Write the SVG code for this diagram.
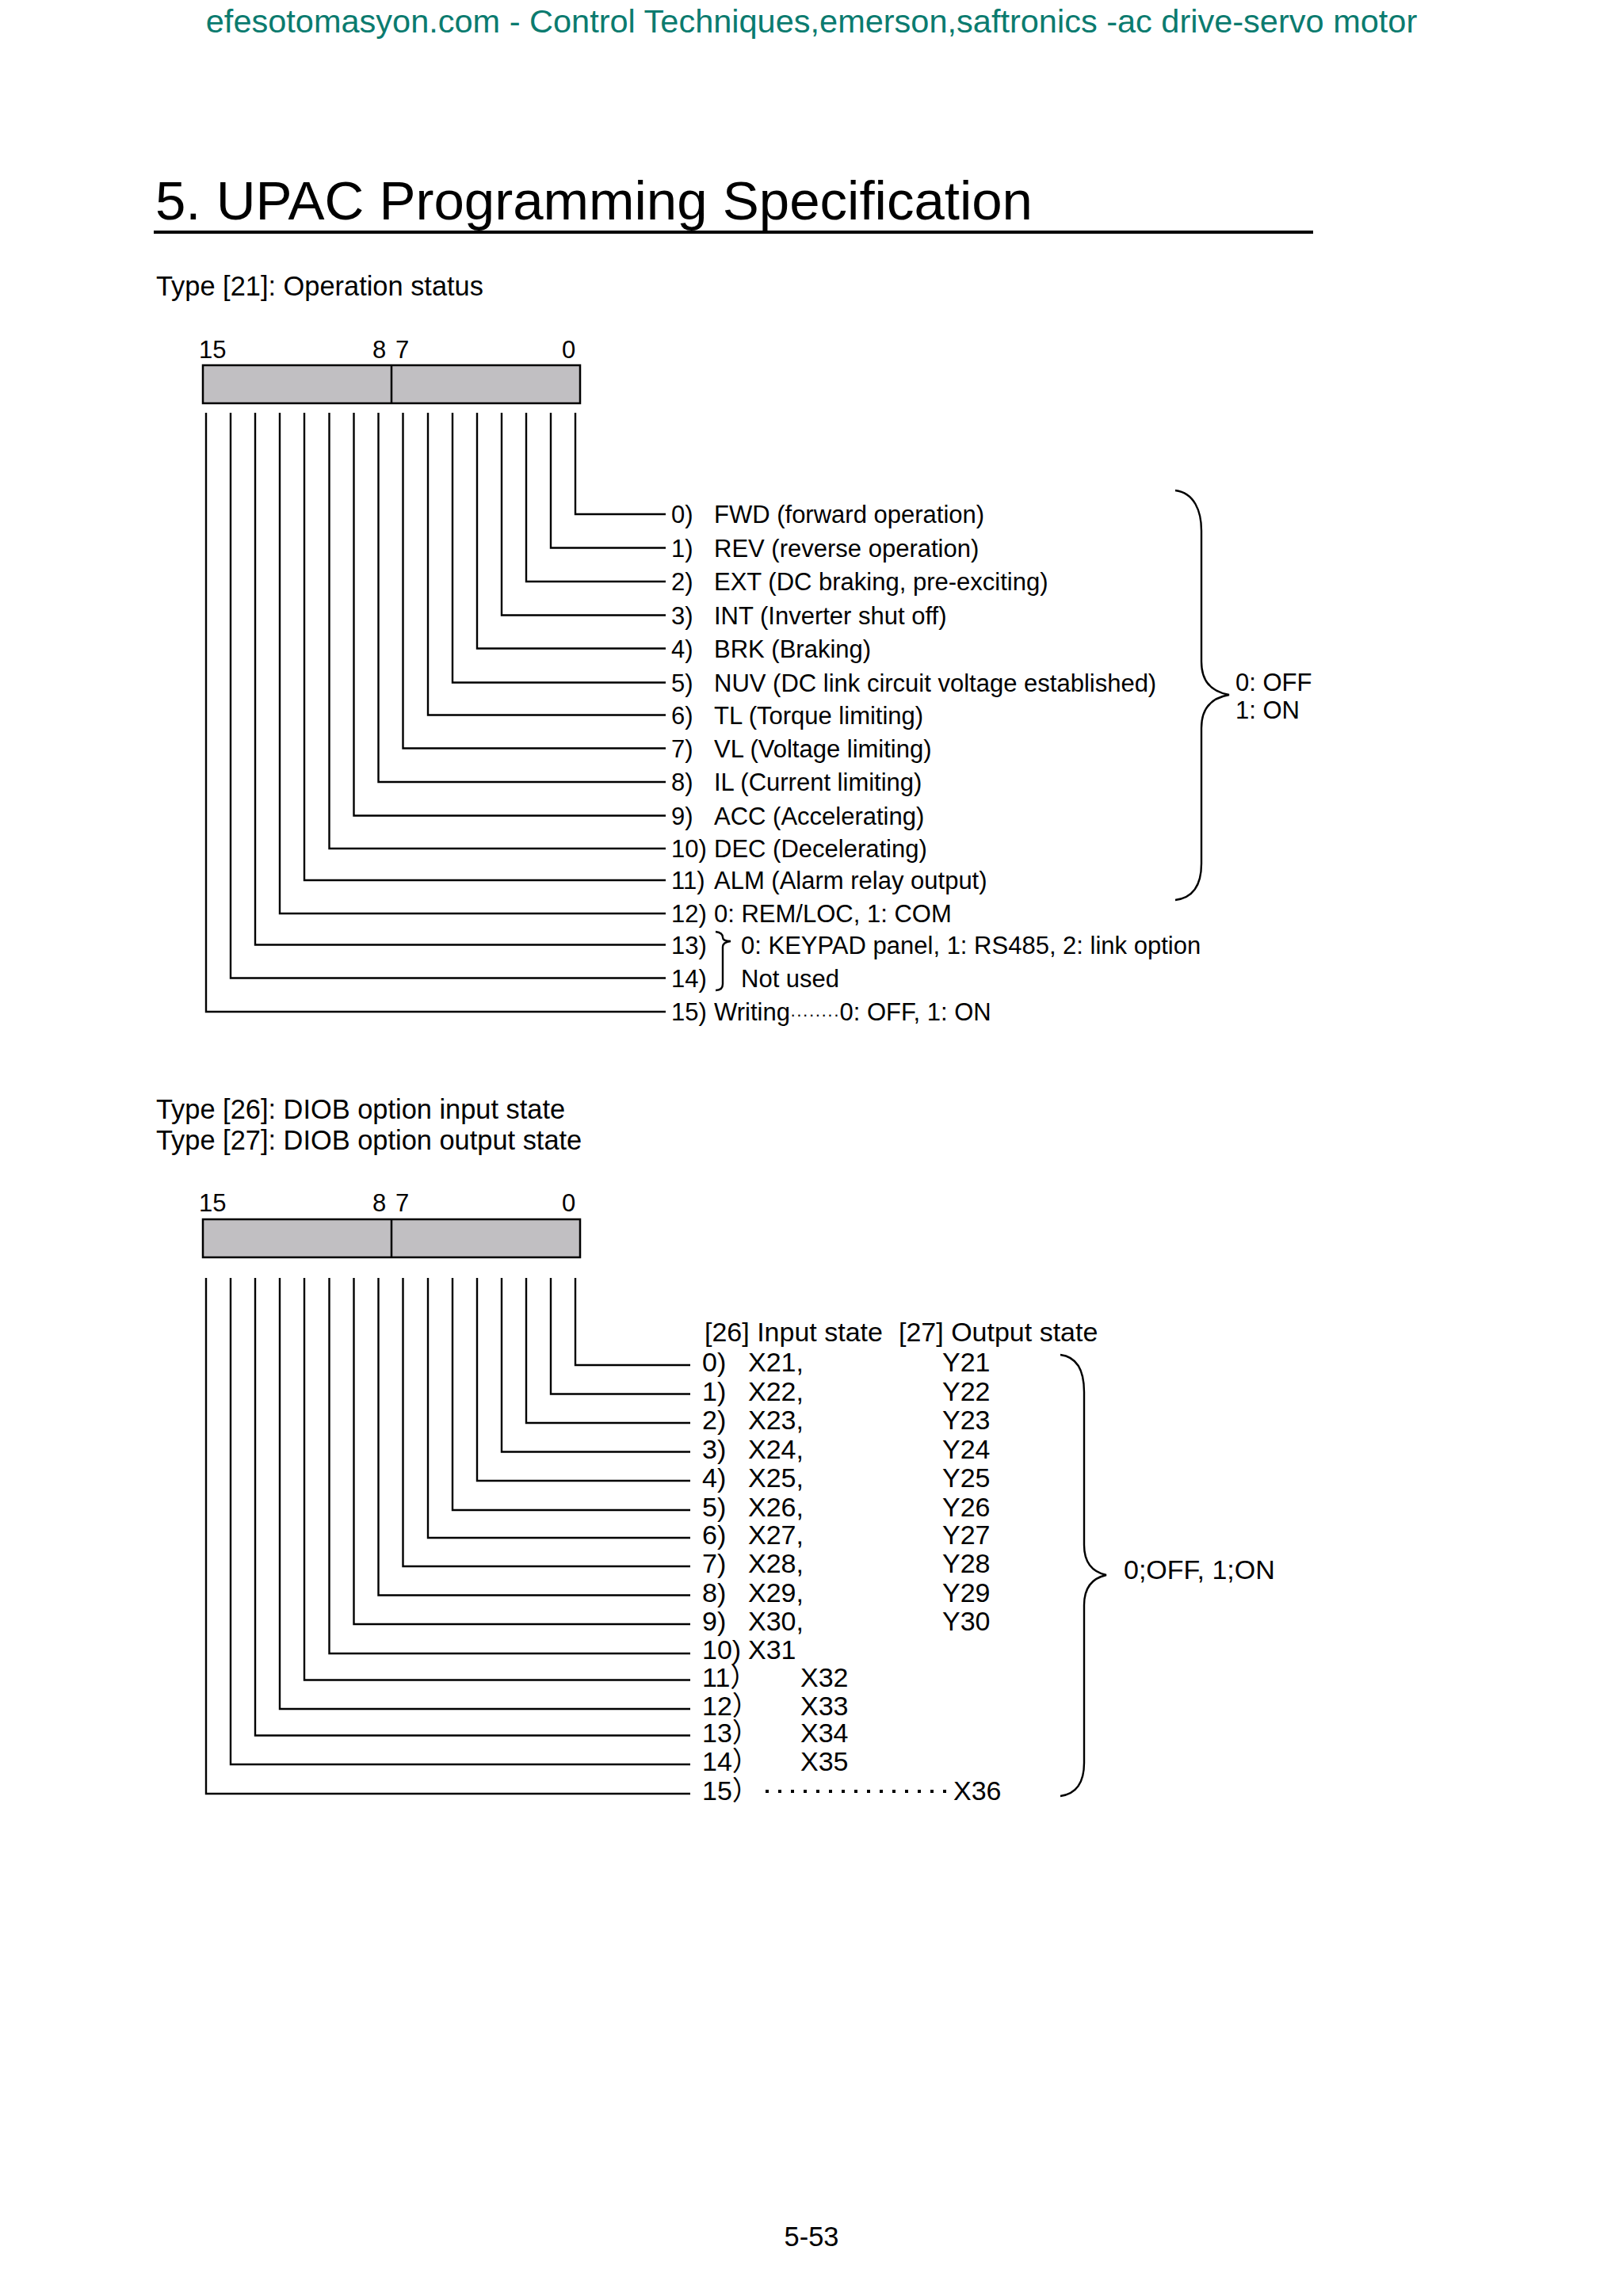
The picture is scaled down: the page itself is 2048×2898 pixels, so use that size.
<svg xmlns="http://www.w3.org/2000/svg" width="2048" height="2898" viewBox="0 0 2048 2898">
<style>
text{font-family:"Liberation Sans",Arial,sans-serif;fill:#000}
.hdr{font-size:41.5px;fill:#0b7b6f}
.title{font-size:69px}
.h2{font-size:34.4px}
.s1{font-size:31px}
.s2{font-size:34px}
.fw{font-family:"Liberation Sans","Noto Sans CJK JP",sans-serif}
.bar{fill:#c1bfc2;stroke:#000;stroke-width:2.5}
.ln{fill:none;stroke:#000;stroke-width:2.4}
.br{fill:none;stroke:#000;stroke-width:2.4}
</style>
<rect width="2048" height="2898" fill="#fff"/>
<text class="hdr" x="1024" y="41" text-anchor="middle">efesotomasyon.com - Control Techniques,emerson,saftronics -ac drive-servo motor</text>
<text class="title" x="196" y="277">5. UPAC Programming Specification</text>
<rect x="194" y="291" width="1463" height="4" fill="#000"/>
<text class="h2" x="197" y="373">Type [21]: Operation status</text>

<g id="register21">
<rect class="bar" x="256" y="461" width="476" height="48"/>
<line x1="494" y1="461" x2="494" y2="509" stroke="#000" stroke-width="2.5"/>
<text class="s1" x="251" y="452">15</text>
<text class="s1" x="470" y="452">8</text>
<text class="s1" x="499" y="452">7</text>
<text class="s1" x="709" y="452">0</text>
</g>

<g id="connectors21" class="ln">
<path d="M726,521V649H840"/>
<path d="M695,521V691.5H840"/>
<path d="M664,521V734H840"/>
<path d="M633,521V776.5H840"/>
<path d="M602,521V818.5H840"/>
<path d="M571,521V861.5H840"/>
<path d="M540,521V902.5H840"/>
<path d="M508.5,521V944.5H840"/>
<path d="M477.5,521V987H840"/>
<path d="M446.5,521V1029.5H840"/>
<path d="M415.5,521V1071H840"/>
<path d="M384,521V1111H840"/>
<path d="M353,521V1153H840"/>
<path d="M322,521V1192.5H840"/>
<path d="M291,521V1234.5H840"/>
<path d="M260,521V1277H840"/>
</g>

<g id="labels21" class="s1">
<text x="847" y="660">0)</text><text x="901" y="660">FWD (forward operation)</text>
<text x="847" y="702.5">1)</text><text x="901" y="702.5">REV (reverse operation)</text>
<text x="847" y="745">2)</text><text x="901" y="745">EXT (DC braking, pre-exciting)</text>
<text x="847" y="787.5">3)</text><text x="901" y="787.5">INT (Inverter shut off)</text>
<text x="847" y="829.5">4)</text><text x="901" y="829.5">BRK (Braking)</text>
<text x="847" y="872.5">5)</text><text x="901" y="872.5">NUV (DC link circuit voltage established)</text>
<text x="847" y="913.5">6)</text><text x="901" y="913.5">TL (Torque limiting)</text>
<text x="847" y="955.5">7)</text><text x="901" y="955.5">VL (Voltage limiting)</text>
<text x="847" y="998">8)</text><text x="901" y="998">IL (Current limiting)</text>
<text x="847" y="1040.5">9)</text><text x="901" y="1040.5">ACC (Accelerating)</text>
<text x="847" y="1082">10)</text><text x="901" y="1082">DEC (Decelerating)</text>
<text x="847" y="1122">11)</text><text x="901" y="1122">ALM (Alarm relay output)</text>
<text x="847" y="1164">12)</text><text x="901" y="1164">0: REM/LOC, 1: COM</text>
<text x="847" y="1203.5">13)</text><text x="935" y="1203.5">0: KEYPAD panel, 1: RS485, 2: link option</text>
<text x="847" y="1245.5">14)</text><text x="935" y="1245.5">Not used</text>
<text x="847" y="1288">15)</text><text x="901" y="1288">Writing<tspan font-size="22" letter-spacing="0.5">········</tspan>0: OFF, 1: ON</text>
<text x="1559" y="872">0: OFF</text>
<text x="1559" y="907">1: ON</text>
</g>

<g id="braces21" class="br">
<path d="M1483,619C1507,622 1516,645 1516,670L1516,835C1516,858 1527,873 1551,877C1527,881 1516,896 1516,919L1516,1090C1516,1115 1507,1133 1483,1136"/>
<path d="M903,1176C910,1177 912,1180 912,1183C912,1186 915,1188 922,1188C915,1189 912,1191 912,1195L912,1242C912,1247 909,1250 903,1250"/>
</g>

<text class="h2" x="197" y="1412">Type [26]: DIOB option input state</text>
<text class="h2" x="197" y="1451">Type [27]: DIOB option output state</text>

<g id="register26">
<rect class="bar" x="256" y="1539" width="476" height="48"/>
<line x1="494" y1="1539" x2="494" y2="1587" stroke="#000" stroke-width="2.5"/>
<text class="s1" x="251" y="1529">15</text>
<text class="s1" x="470" y="1529">8</text>
<text class="s1" x="499" y="1529">7</text>
<text class="s1" x="709" y="1529">0</text>
</g>

<g id="connectors26" class="ln">
<path d="M726,1613V1723H871"/>
<path d="M695,1613V1759.5H871"/>
<path d="M664,1613V1796H871"/>
<path d="M633,1613V1832.5H871"/>
<path d="M602,1613V1869H871"/>
<path d="M571,1613V1906H871"/>
<path d="M540,1613V1941H871"/>
<path d="M508.5,1613V1977H871"/>
<path d="M477.5,1613V2013.5H871"/>
<path d="M446.5,1613V2050H871"/>
<path d="M415.5,1613V2087H871"/>
<path d="M384,1613V2120.5H871"/>
<path d="M353,1613V2157H871"/>
<path d="M322,1613V2190.5H871"/>
<path d="M291,1613V2227H871"/>
<path d="M260,1613V2264H871"/>
<line x1="966" y1="2261" x2="1196" y2="2261" stroke-width="4" stroke-dasharray="4 12"/>
</g>

<g id="labels26" class="s2">
<text x="889" y="1693">[26] Input state</text><text x="1134" y="1693">[27] Output state</text>
<text x="886" y="1731">0)</text><text x="944" y="1731">X21,</text><text x="1189" y="1731">Y21</text>
<text x="886" y="1767.5">1)</text><text x="944" y="1767.5">X22,</text><text x="1189" y="1767.5">Y22</text>
<text x="886" y="1804">2)</text><text x="944" y="1804">X23,</text><text x="1189" y="1804">Y23</text>
<text x="886" y="1840.5">3)</text><text x="944" y="1840.5">X24,</text><text x="1189" y="1840.5">Y24</text>
<text x="886" y="1877">4)</text><text x="944" y="1877">X25,</text><text x="1189" y="1877">Y25</text>
<text x="886" y="1914">5)</text><text x="944" y="1914">X26,</text><text x="1189" y="1914">Y26</text>
<text x="886" y="1949">6)</text><text x="944" y="1949">X27,</text><text x="1189" y="1949">Y27</text>
<text x="886" y="1985">7)</text><text x="944" y="1985">X28,</text><text x="1189" y="1985">Y28</text>
<text x="886" y="2021.5">8)</text><text x="944" y="2021.5">X29,</text><text x="1189" y="2021.5">Y29</text>
<text x="886" y="2058">9)</text><text x="944" y="2058">X30,</text><text x="1189" y="2058">Y30</text>
<text x="886" y="2094">10)</text><text x="944" y="2094">X31</text>
<text class="fw" x="886" y="2128.5">11）</text><text x="1010" y="2128.5">X32</text>
<text class="fw" x="886" y="2165">12）</text><text x="1010" y="2165">X33</text>
<text class="fw" x="886" y="2198.5">13）</text><text x="1010" y="2198.5">X34</text>
<text class="fw" x="886" y="2235">14）</text><text x="1010" y="2235">X35</text>
<text class="fw" x="886" y="2272">15）</text><text x="1203" y="2272">X36</text>
<text x="1418" y="1993">0;OFF, 1;ON</text>
</g>

<g id="braces26" class="br">
<path d="M1338,1710C1362,1713 1368,1735 1368,1757L1368,1950C1368,1972 1378,1984 1396,1988C1378,1992 1368,2004 1368,2026L1368,2225C1368,2248 1360,2264 1338,2267"/>
</g>

<text class="h2" x="1024" y="2835" text-anchor="middle">5-53</text>
</svg>
